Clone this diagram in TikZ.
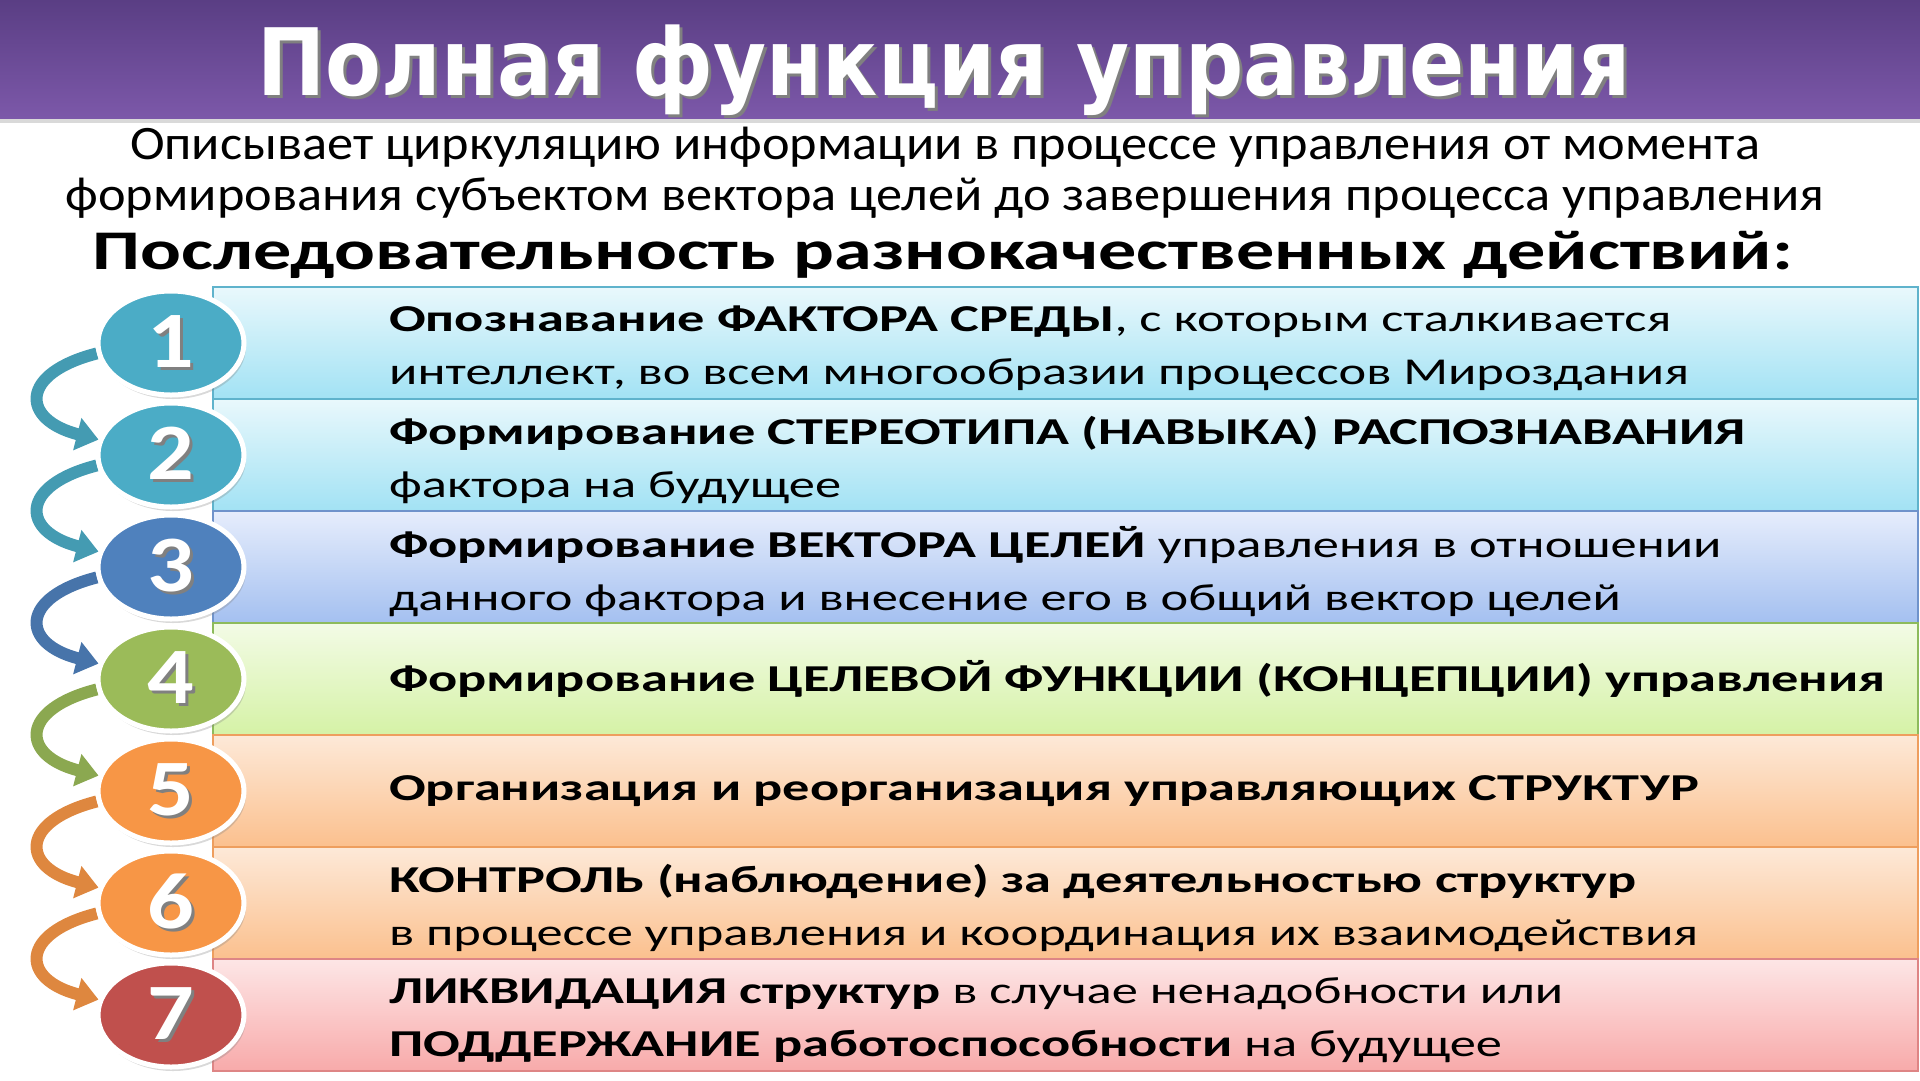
\documentclass[tikz,border=0pt]{standalone}
\usepackage{fontspec}
\setmainfont{Carlito}
\newfontfamily\rowfont[FakeStretch=1.38, BoldFeatures={FakeStretch=1.43}]{Carlito}
\newfontfamily\aboutfont[FakeStretch=1.09]{Carlito}
\newfontfamily\seqfont[FakeStretch=1.36]{Carlito}
\newfontfamily\numfont[FakeStretch=1.15]{Carlito}
\newfontfamily\titlefont[FakeStretch=0.875]{DejaVu Sans}
\usepackage{tikz}
\usetikzlibrary{positioning, arrows.meta, shapes.geometric, shadows, backgrounds}
\usepackage{xcolor}

\definecolor{titletop}{HTML}{5A3E84}
\definecolor{titlebot}{HTML}{7C58A9}
\definecolor{cyantop}{HTML}{E9F8FC}
\definecolor{cyanbot}{HTML}{A2E2F4}
\definecolor{cyanline}{HTML}{5FB3CC}
\definecolor{bluetop}{HTML}{E6EDFC}
\definecolor{bluebot}{HTML}{A4C0F0}
\definecolor{blueline}{HTML}{6F93CB}
\definecolor{greentop}{HTML}{F3FBE6}
\definecolor{greenbot}{HTML}{D5F2A6}
\definecolor{greenline}{HTML}{8DBB5C}
\definecolor{orangetop}{HTML}{FDE9D8}
\definecolor{orangebot}{HTML}{FBC08E}
\definecolor{orangeline}{HTML}{EE9E5E}
\definecolor{redtop}{HTML}{FDE6E6}
\definecolor{redbot}{HTML}{F8AAAA}
\definecolor{redline}{HTML}{DE8585}
\definecolor{numcyan}{HTML}{4BACC6}
\definecolor{numblue}{HTML}{4F81BD}
\definecolor{numgreen}{HTML}{9BBB59}
\definecolor{numorange}{HTML}{F79646}
\definecolor{numred}{HTML}{C0504D}

% white text with a dark copy under it
\newcommand{\shadowed}[1]{\makebox[0pt][l]{\hspace{3pt}\raisebox{-3pt}{\color{black!50}#1}}#1}

\begin{document}
\begin{tikzpicture}[x=1pt, y=-1pt,
  band/.style={rectangle, minimum width=1705pt, minimum height=112pt, inner sep=0pt, line width=1.2pt},
  num/.style={ellipse, minimum width=146pt, minimum height=104pt, inner sep=0pt, draw=white, line width=5pt,
    text=white, font=\numfont\bfseries\fontsize{80}{80}\selectfont,
    drop shadow={opacity=0.3, shadow xshift=2pt, shadow yshift=-4pt}},
  rowtext/.style={anchor=west, align=left, inner sep=0pt, font=\rowfont\fontsize{38}{53}\selectfont},
  loop arrow/.style={line width=12pt, -{Triangle[width=32pt, length=22pt]}}]
\useasboundingbox (0,0) rectangle (1920,1080);

% title bar
\node[rectangle, minimum width=1920pt, minimum height=118pt, inner sep=0pt,
  top color=titletop, bottom color=titlebot,
  drop shadow={opacity=0.3, shadow xshift=0pt, shadow yshift=-5pt}] (bar) at (960,59) {};
\node[anchor=base, text=white, font=\titlefont\bfseries\fontsize{93}{93}\selectfont] (title) at (944,95)
  {\shadowed{Полная функция управления}};

% description
\node[align=center, font=\aboutfont\fontsize{48}{51}\selectfont] (about) at (945,173)
  {Описывает циркуляцию информации в процессе управления от момента\\
   формирования субъектом вектора целей до завершения процесса управления};
\node[font=\seqfont\bfseries\fontsize{56}{56}\selectfont] (seq) at (943,255)
  {Последовательность разнокачественных действий:};

% rows
\node[band, draw=cyanline, top color=cyantop, bottom color=cyanbot] (b1) at (1065.5,343) {};
\node[band, draw=cyanline, top color=cyantop, bottom color=cyanbot] (b2) at (1065.5,455) {};
\node[band, draw=blueline, top color=bluetop, bottom color=bluebot] (b3) at (1065.5,567) {};
\node[band, draw=greenline, top color=greentop, bottom color=greenbot] (b4) at (1065.5,679) {};
\node[band, draw=orangeline, top color=orangetop, bottom color=orangebot] (b5) at (1065.5,791) {};
\node[band, draw=orangeline, top color=orangetop, bottom color=orangebot] (b6) at (1065.5,903) {};
\node[band, draw=redline, top color=redtop, bottom color=redbot] (b7) at (1065.5,1015) {};

\node[rowtext] (t1) at (389,348) {\textbf{Опознавание ФАКТОРА СРЕДЫ}, с которым сталкивается\\
  интеллект, во всем многообразии процессов Мироздания};
\node[rowtext] (t2) at (389,460) {\textbf{Формирование СТЕРЕОТИПА (НАВЫКА) РАСПОЗНАВАНИЯ}\\
  фактора на будущее};
\node[rowtext] (t3) at (389,572) {\textbf{Формирование ВЕКТОРА ЦЕЛЕЙ} управления в отношении\\
  данного фактора и внесение его в общий вектор целей};
\node[rowtext] (t4) at (389,679) {\textbf{Формирование ЦЕЛЕВОЙ ФУНКЦИИ (КОНЦЕПЦИИ) управления}};
\node[rowtext] (t5) at (389,791) {\textbf{Организация и реорганизация управляющих СТРУКТУР}};
\node[rowtext] (t6) at (389,908) {\textbf{КОНТРОЛЬ (наблюдение) за деятельностью структур}\\
  в процессе управления и координация их взаимодействия};
\node[rowtext] (t7) at (389,1020) {\textbf{ЛИКВИДАЦИЯ структур} в случае ненадобности или\\
  \textbf{ПОДДЕРЖАНИЕ работоспособности} на будущее};

% numbers
\node[num, fill=numcyan] (c1) at (171,343) {\shadowed{1}};
\node[num, fill=numcyan] (c2) at (171,455) {\shadowed{2}};
\node[num, fill=numblue] (c3) at (171,567) {\shadowed{3}};
\node[num, fill=numgreen] (c4) at (171,679) {\shadowed{4}};
\node[num, fill=numorange] (c5) at (171,791) {\shadowed{5}};
\node[num, fill=numorange] (c6) at (171,903) {\shadowed{6}};
\node[num, fill=numred] (c7) at (171,1015) {\shadowed{7}};

% arrows
\begin{scope}[on background layer]
\draw[loop arrow, numcyan!90!black] (c1.188) .. controls +(-78,20) and +(-78,-20) .. (c2.168);
\draw[loop arrow, numcyan!90!black] (c2.188) .. controls +(-78,20) and +(-78,-20) .. (c3.168);
\draw[loop arrow, numblue!90!black] (c3.188) .. controls +(-78,20) and +(-78,-20) .. (c4.168);
\draw[loop arrow, numgreen!90!black] (c4.188) .. controls +(-78,20) and +(-78,-20) .. (c5.168);
\draw[loop arrow, numorange!90!black] (c5.188) .. controls +(-78,20) and +(-78,-20) .. (c6.168);
\draw[loop arrow, numorange!90!black] (c6.188) .. controls +(-78,20) and +(-78,-20) .. (c7.168);
\end{scope}

\end{tikzpicture}
\end{document}
